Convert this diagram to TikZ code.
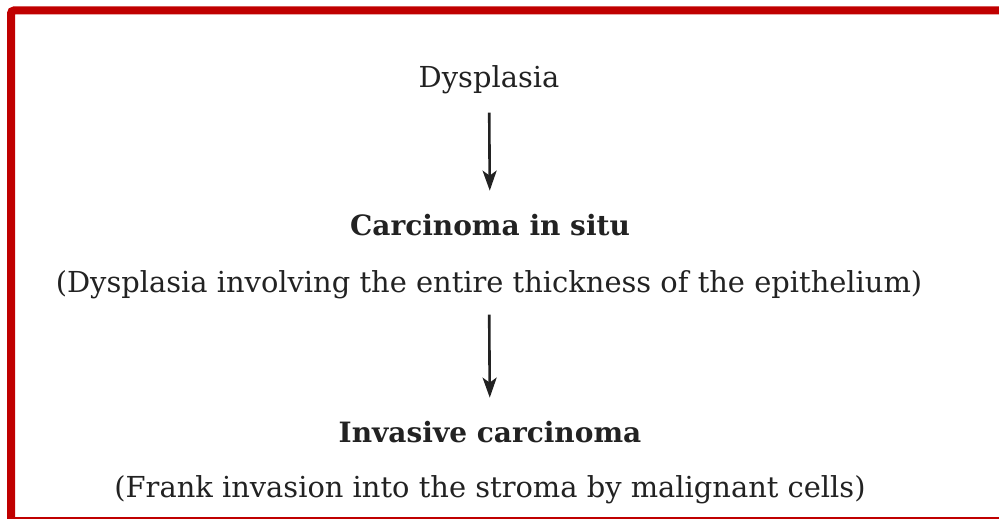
\documentclass[tikz,border=0pt]{standalone}
\usepackage{fontspec}
\setmainfont{DejaVu Serif}
\usetikzlibrary{arrows.meta}
\definecolor{framered}{RGB}{192,0,0}
\definecolor{ink}{RGB}{34,34,34}

\begin{document}
\begin{tikzpicture}[x=1pt,y=-1pt,text=ink,font=\fontsize{28.9}{32}\selectfont]
\useasboundingbox (0,0) rectangle (999,519);
% frame
\draw[framered,line width=8pt,rounded corners=3pt] (1003,10.5) -- (11,10.5) -- (11,523);
\draw[framered,line width=2pt] (11,517.5) -- (1003,517.5);
% stages
\node (dys) at (489,80) {Dysplasia};
\node[font=\fontsize{28}{32}\selectfont\bfseries] (cis) at (490,225) {Carcinoma in situ};
\node (cisnote) at (489,285) {(Dysplasia involving the entire thickness of the epithelium)};
\node[font=\fontsize{28}{32}\selectfont\bfseries] (inv) at (490,432) {Invasive carcinoma};
\node (invnote) at (490,490) {(Frank invasion into the stroma by malignant cells)};
\draw[-{Stealth[length=20pt,width=14pt,inset=5pt]},line width=2.6pt,ink,shorten <=15pt,shorten >=20pt] (dys) -- (cis);
\draw[-{Stealth[length=20pt,width=14pt,inset=5pt]},line width=2.6pt,ink,shorten <=12pt,shorten >=20pt] (cisnote) -- (inv);
\end{tikzpicture}
\end{document}
